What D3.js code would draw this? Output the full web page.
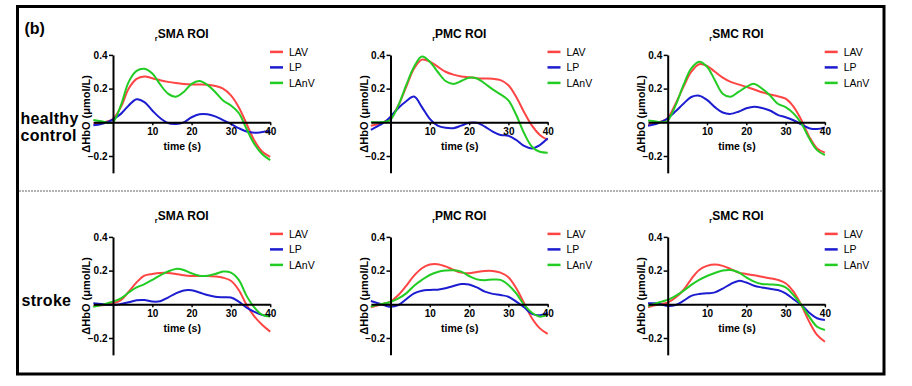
<!DOCTYPE html>
<html><head><meta charset="utf-8">
<script src="https://cdn.jsdelivr.net/npm/d3@7"></script>
<style>body{margin:0;background:#fff}svg{display:block}</style>
</head><body>
<script>
// ---- data ----
const time = [-5,-3,-1,0,2,4,6,8,10,12,14,16,18,20,22,24,26,28,30,32,34,36,38,40];
const seriesNames = ["LAV","LP","LAnV"];
const rowLabels = [["healthy","control"],["stroke"]];
const roiNames = ["SMA ROI","PMC ROI","SMC ROI"];
const xTicks = [10,20,30,40];
const yTicks = [0.4,0.2,-0.2];

// healthy control
const hSMA_LAV  = [-0.005,-0.003,0.008,0.02,0.09,0.2,0.258,0.272,0.262,0.25,0.24,0.233,0.228,0.225,0.224,0.223,0.216,0.2,0.16,0.09,-0.01,-0.11,-0.175,-0.205];
const hSMA_LP   = [-0.018,-0.01,0.005,0.018,0.05,0.1,0.137,0.12,0.07,0.025,-0.005,-0.01,0.0,0.03,0.048,0.048,0.035,0.013,-0.01,-0.035,-0.055,-0.062,-0.058,-0.05];
const hSMA_LAnV = [0.014,0.006,-0.004,0.0,0.1,0.24,0.305,0.318,0.29,0.225,0.17,0.152,0.18,0.228,0.245,0.222,0.18,0.13,0.1,0.055,-0.04,-0.13,-0.19,-0.225];

const hPMC_LAV  = [-0.02,-0.01,0.01,0.025,0.1,0.21,0.32,0.372,0.36,0.33,0.3,0.283,0.272,0.267,0.262,0.26,0.258,0.25,0.22,0.15,0.06,-0.02,-0.075,-0.105];
const hPMC_LP   = [-0.045,-0.02,0.01,0.033,0.085,0.125,0.153,0.09,0.02,-0.02,-0.033,-0.035,-0.02,-0.003,-0.003,-0.025,-0.055,-0.075,-0.08,-0.105,-0.14,-0.155,-0.135,-0.095];
const hPMC_LAnV = [0.0,0.0,0.005,0.015,0.1,0.22,0.33,0.39,0.36,0.3,0.245,0.228,0.245,0.265,0.26,0.23,0.195,0.166,0.13,0.043,-0.065,-0.145,-0.175,-0.18];

const hSMC_LAV  = [-0.015,-0.005,0.01,0.024,0.11,0.21,0.3,0.345,0.335,0.3,0.265,0.24,0.225,0.21,0.195,0.178,0.165,0.155,0.14,0.093,0.014,-0.085,-0.155,-0.18];
const hSMC_LP   = [-0.02,-0.01,0.01,0.024,0.065,0.11,0.15,0.158,0.133,0.09,0.058,0.05,0.063,0.083,0.093,0.085,0.07,0.044,0.03,0.012,-0.012,-0.035,-0.04,-0.03];
const hSMC_LAnV = [0.01,0.005,0.0,0.01,0.1,0.22,0.32,0.36,0.33,0.25,0.17,0.152,0.18,0.21,0.228,0.2,0.16,0.11,0.09,0.053,-0.006,-0.095,-0.165,-0.195];

// stroke
const sSMA_LAV  = [-0.01,-0.005,0.0,0.006,0.025,0.075,0.13,0.17,0.18,0.186,0.186,0.18,0.172,0.168,0.168,0.168,0.165,0.158,0.14,0.085,-0.004,-0.073,-0.123,-0.162];
const sSMA_LP   = [0.006,0.002,-0.002,-0.004,0.002,0.012,0.024,0.025,0.016,0.018,0.04,0.065,0.082,0.083,0.07,0.055,0.045,0.042,0.04,0.016,-0.02,-0.045,-0.063,-0.069];
const sSMA_LAnV = [-0.014,-0.005,0.01,0.016,0.035,0.07,0.1,0.12,0.145,0.172,0.195,0.21,0.204,0.184,0.17,0.17,0.18,0.194,0.188,0.145,0.05,-0.02,-0.063,-0.073];

const sPMC_LAV  = [-0.018,-0.005,0.008,0.016,0.055,0.11,0.17,0.214,0.236,0.238,0.225,0.205,0.188,0.184,0.192,0.198,0.198,0.188,0.16,0.095,0.006,-0.083,-0.143,-0.176];
const sPMC_LP   = [0.02,0.005,-0.01,-0.014,-0.004,0.03,0.065,0.081,0.085,0.087,0.095,0.109,0.12,0.118,0.1,0.075,0.062,0.055,0.045,0.016,-0.018,-0.057,-0.065,-0.05];
const sPMC_LAnV = [-0.014,-0.002,0.008,0.014,0.035,0.065,0.11,0.145,0.174,0.192,0.2,0.202,0.194,0.168,0.148,0.143,0.147,0.145,0.115,0.065,-0.004,-0.05,-0.073,-0.063];

const sSMC_LAV  = [-0.018,-0.005,0.005,0.01,0.04,0.085,0.15,0.204,0.228,0.236,0.228,0.21,0.188,0.18,0.172,0.163,0.155,0.145,0.125,0.075,-0.004,-0.103,-0.182,-0.222];
const sSMC_LP   = [0.006,0.006,-0.005,-0.01,-0.004,0.02,0.05,0.061,0.065,0.071,0.093,0.12,0.139,0.129,0.11,0.1,0.092,0.085,0.065,0.03,-0.004,-0.05,-0.083,-0.093];
const sSMC_LAnV = [-0.01,0.005,0.02,0.026,0.05,0.08,0.115,0.145,0.168,0.186,0.2,0.203,0.19,0.16,0.135,0.121,0.118,0.115,0.101,0.055,-0.004,-0.073,-0.133,-0.152];

const panels = [
  [[hSMA_LAV,hSMA_LP,hSMA_LAnV],[hPMC_LAV,hPMC_LP,hPMC_LAnV],[hSMC_LAV,hSMC_LP,hSMC_LAnV]],
  [[sSMA_LAV,sSMA_LP,sSMA_LAnV],[sPMC_LAV,sPMC_LP,sPMC_LAnV],[sSMC_LAV,sSMC_LP,sSMC_LAnV]]
];

// ---- layout / style ----
const W = 912, H = 386;
const colors = ["#ff4444","#1c1cd0","#22cc22"];
const colX0 = [113, 390.5, 667.7];   // pixel of t=0
const rowY0 = [122.3, 304.3];        // pixel of value 0
const unitX = 3.93, unitY = 168.5;
const FONT = "Liberation Sans, Arial, Helvetica, sans-serif";

const svg = d3.select("body").append("svg").attr("width", W).attr("height", H)
  .style("font-family", FONT);

// outer frame
svg.append("rect").attr("x", 17.5).attr("y", 6.5).attr("width", 866.5).attr("height", 367.5)
  .attr("fill", "none").attr("stroke", "#000").attr("stroke-width", 3);
// dashed separator
svg.append("line").attr("x1", 19).attr("x2", 882.5).attr("y1", 191).attr("y2", 191)
  .attr("stroke", "#666").attr("stroke-width", 1).attr("stroke-dasharray", "2,1");

svg.append("text").attr("x", 24.5).attr("y", 33.5).text("(b)")
  .attr("font-size", 16).attr("font-weight", "bold");

// row labels
svg.append("text").attr("x", 20.5).attr("y", 124).text(rowLabels[0][0])
  .attr("font-size", 16).attr("font-weight", "bold").attr("letter-spacing", 0.3);
svg.append("text").attr("x", 20.5).attr("y", 140.5).text(rowLabels[0][1])
  .attr("font-size", 16).attr("font-weight", "bold").attr("letter-spacing", 0.3);
svg.append("text").attr("x", 21.5).attr("y", 306).text(rowLabels[1][0])
  .attr("font-size", 16).attr("font-weight", "bold").attr("letter-spacing", 0.3);

panels.forEach((row, ri) => {
  row.forEach((panelSeries, ci) => {
    const x0 = colX0[ci], y0 = rowY0[ri];
    const x = d3.scaleLinear().domain([-5, 40]).range([x0 - 5 * unitX, x0 + 40 * unitX]);
    const y = d3.scaleLinear().domain([-0.3, 0.4]).range([y0 + 0.3 * unitY, y0 - 0.4 * unitY]);
    const g = svg.append("g");

    // title
    const cx = (x(-5) + x(40)) / 2;
    const t = g.append("text").attr("x", cx).attr("y", y(0.4) - 16.5)
      .attr("text-anchor", "middle").attr("font-weight", "bold").attr("font-size", 12);
    t.append("tspan").text("r").attr("font-size", 7.5).attr("dy", 2.5);
    t.append("tspan").text(roiNames[ci]).attr("dy", -2.5);

    // lines
    const line = d3.line().x((d, i) => x(time[i])).y(d => y(d))
      .curve(d3.curveCatmullRom.alpha(0.5));
    panelSeries.forEach((vals, si) => {
      g.append("path").datum(vals).attr("d", line)
        .attr("fill", "none").attr("stroke", colors[si]).attr("stroke-width", 2);
    });

    // axes
    const yAxis = d3.axisLeft(y).tickValues(yTicks).tickSize(4).tickSizeOuter(0).tickPadding(1.5)
      .tickFormat(d3.format(".1f"));
    const ya = g.append("g").attr("transform", `translate(${x(0)},0)`).call(yAxis);
    const xAxis = d3.axisBottom(x).tickValues(xTicks).tickSize(3).tickSizeOuter(0).tickPadding(2.5);
    const xa = g.append("g").attr("transform", `translate(0,${y(0)})`).call(xAxis);
    [ya, xa].forEach(a => {
      a.select(".domain").attr("stroke", "#000").attr("stroke-width", 2);
      a.selectAll(".tick line").attr("stroke", "#000").attr("stroke-width", 1.5);
      a.selectAll(".tick text").attr("fill", "#000").attr("font-size", 10)
        .attr("font-weight", "bold").attr("font-family", FONT);
    });

    // axis labels
    g.append("text").attr("transform", `translate(${x0 - 23},${(y(0.4) + y(-0.3)) / 2}) rotate(-90)`)
      .attr("text-anchor", "middle").attr("font-weight", "bold").attr("font-size", 11)
      .text("ΔHbO (μmol/L)");
    g.append("text").attr("x", cx + 0.5).attr("y", y(0) + 28)
      .attr("text-anchor", "middle").attr("font-weight", "bold").attr("font-size", 10.5)
      .text("time (s)");

    // legend
    seriesNames.forEach((name, si) => {
      const ly = y(0.4) - 3 + si * 15.5;
      g.append("line").attr("x1", x0 + 157).attr("x2", x0 + 170).attr("y1", ly).attr("y2", ly)
        .attr("stroke", colors[si]).attr("stroke-width", 2.5);
      g.append("text").attr("x", x0 + 176).attr("y", ly + 3.8).attr("font-size", 10.5)
        .text(name);
    });
  });
});
</script>
</body></html>
